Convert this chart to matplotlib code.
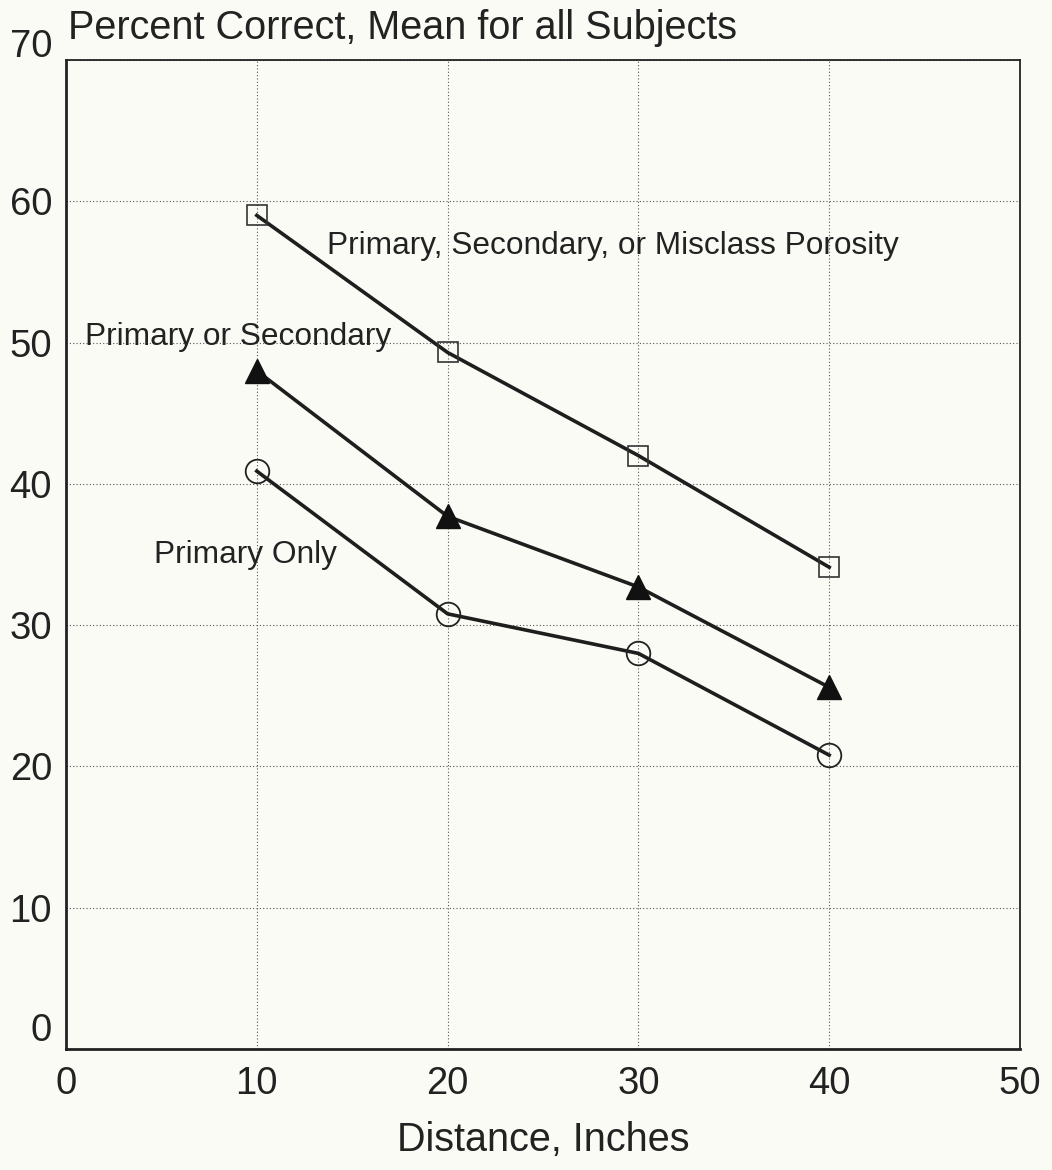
import matplotlib
matplotlib.use("Agg")
import matplotlib.pyplot as plt
from matplotlib.transforms import ScaledTranslation

plt.rcParams['font.family'] = ['Liberation Sans', 'DejaVu Sans']

distance = [10, 20, 30, 40]
misclass = [59.0, 49.3, 42.0, 34.1]
prim_or_sec = [48.0, 37.7, 32.7, 25.6]
primary_only = [40.9, 30.8, 28.0, 20.8]

x_ticks = [0, 10, 20, 30, 40, 50]
y_ticks = [0, 10, 20, 30, 40, 50, 60, 70]

title = "Percent Correct, Mean for all Subjects"
xlabel = "Distance, Inches"
labels = {
    "Primary, Secondary, or Misclass Porosity": (13.7, 56.8),
    "Primary or Secondary": (1.0, 50.4),
    "Primary Only": (4.6, 35.0),
}

bg = '#fbfbf6'
fig = plt.figure(figsize=(10.52, 11.70), dpi=100, facecolor=bg)
ax = fig.add_axes([66/1052, 121/1170, (1020-66)/1052, (1049-60)/1170])
ax.set_facecolor(bg)

ax.set_xlim(0, 50)
ax.set_ylim(0, 70)
ax.set_xticks(x_ticks)
ax.set_yticks(y_ticks)
ax.grid(True, linestyle=(0, (1, 2)), color='#555555', linewidth=0.8)
ax.set_axisbelow(True)
for name, s in ax.spines.items():
    s.set_linewidth(2.0 if name in ('left', 'bottom') else 1.3)
    s.set_color('#222222')

lc = '#1e1e1e'
ax.plot(distance, misclass, color=lc, lw=2.6, marker='s', ms=15,
        mfc='none', mec='#333333', mew=1.2, zorder=3)
ax.plot(distance, prim_or_sec, color=lc, lw=2.6, marker='^', ms=17,
        mfc='#111111', mec='#111111', mew=1.0, zorder=3)
ax.plot(distance, primary_only, color=lc, lw=2.6, marker='o', ms=17,
        mfc='none', mec='#222222', mew=1.3, zorder=3)

for txt, (tx, ty) in labels.items():
    ax.text(tx, ty, txt, fontsize=22.8, color='#222222', ha='left', va='center', zorder=4)

ax.tick_params(axis='both', length=0, labelsize=27.5, colors='#222222')
ax.tick_params(axis='x', pad=12)
ax.tick_params(axis='y', pad=10)
ax.set_xlabel(xlabel, fontsize=28.5, color='#222222', labelpad=14)

fig.canvas.draw()
ylabels = ax.get_yticklabels()
ylabels[0].set_transform(ylabels[0].get_transform() + ScaledTranslation(0, 22/100, fig.dpi_scale_trans))
ylabels[-1].set_transform(ylabels[-1].get_transform() + ScaledTranslation(0, 17/100, fig.dpi_scale_trans))

fig.text(68/1052, 1 - 28/1170, title, fontsize=28.5, color='#222222', ha='left', va='center')

fig.savefig('out.png', dpi=100, facecolor=bg)
